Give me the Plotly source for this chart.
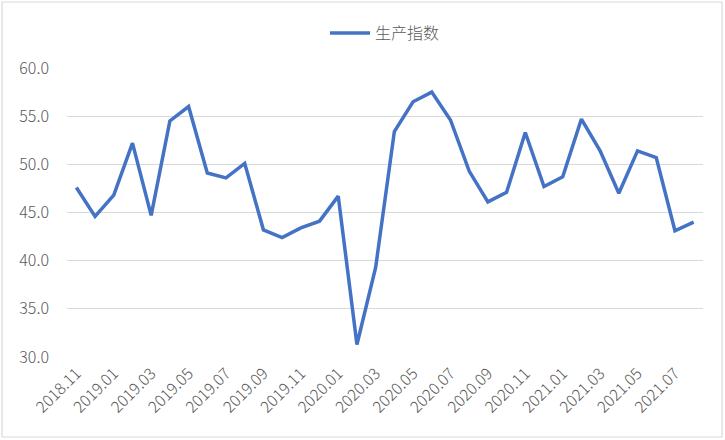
import plotly.graph_objects as go

months = ["2018.11", "2018.12", "2019.01", "2019.02", "2019.03", "2019.04", "2019.05", "2019.06",
          "2019.07", "2019.08", "2019.09", "2019.10", "2019.11", "2019.12", "2020.01", "2020.02",
          "2020.03", "2020.04", "2020.05", "2020.06", "2020.07", "2020.08", "2020.09", "2020.10",
          "2020.11", "2020.12", "2021.01", "2021.02", "2021.03", "2021.04", "2021.05", "2021.06",
          "2021.07", "2021.08"]
values = [47.6, 44.6, 46.8, 52.2, 44.7, 54.5, 56.0, 49.1,
          48.6, 50.1, 43.2, 42.4, 43.4, 44.1, 46.7, 31.3,
          39.3, 53.4, 56.5, 57.5, 54.6, 49.3, 46.1, 47.1,
          53.3, 47.7, 48.7, 54.7, 51.4, 47.0, 51.4, 50.7,
          43.1, 44.0]
tick_labels = months[::2]
y_ticks = [30, 35, 40, 45, 50, 55, 60]
series_name = "生产指数"

font_family = "Noto Sans CJK SC, Noto Sans, sans-serif"
text_color = "#595959"

fig = go.Figure()
fig.add_trace(go.Scatter(
    x=list(range(len(months))), y=values, mode="lines", name=series_name,
    line=dict(color="#4472C4", width=3.5),
))

W, H = 725, 440
ml, mr, mt, mb = 67, 22, 68, 83
pw, ph = W - ml - mr, H - mt - mb

fig.update_layout(
    width=W, height=H,
    margin=dict(l=ml, r=mr, t=mt, b=mb, autoexpand=False),
    paper_bgcolor="white", plot_bgcolor="white",
    font=dict(family=font_family, color=text_color, size=15, weight=300),
    showlegend=True,
    legend=dict(orientation="h", x=0.5, xanchor="center", y=1 + (68 - 16) / ph, yanchor="top",
                font=dict(size=16, color=text_color, weight=300), itemwidth=40),
    xaxis=dict(
        range=[-0.5, len(months) - 0.5], automargin=False,
        tickmode="array", tickvals=list(range(0, len(months), 2)), ticktext=tick_labels,
        tickangle=-45, showgrid=False, showline=False, ticks="", zeroline=False,
        tickfont=dict(size=16, color=text_color, weight=300),
        ticklabelstandoff=3,
    ),
    yaxis=dict(
        range=[30, 60], tickmode="array", tickvals=y_ticks, automargin=False,
        ticktext=[f"{v:.1f}" for v in y_ticks],
        showgrid=True, gridcolor="#d9d9d9", gridwidth=1, zeroline=False,
        showline=False, ticks="", tickfont=dict(size=16, color=text_color, weight=300),
        ticklabelstandoff=17,
    ),
)

# outer chart border
fig.add_shape(type="rect", xref="paper", yref="paper",
              x0=(2 - ml) / pw, x1=(W - 3 - ml) / pw,
              y0=(mt + ph - (H - 3)) / ph, y1=(mt + ph - 2) / ph,
              line=dict(color="#d9d9d9", width=1.2), fillcolor="rgba(0,0,0,0)", layer="below")

fig.write_html("out.html", config={"displayModeBar": False},
               post_script="document.body.style.margin='0';document.body.style.overflow='hidden';")
